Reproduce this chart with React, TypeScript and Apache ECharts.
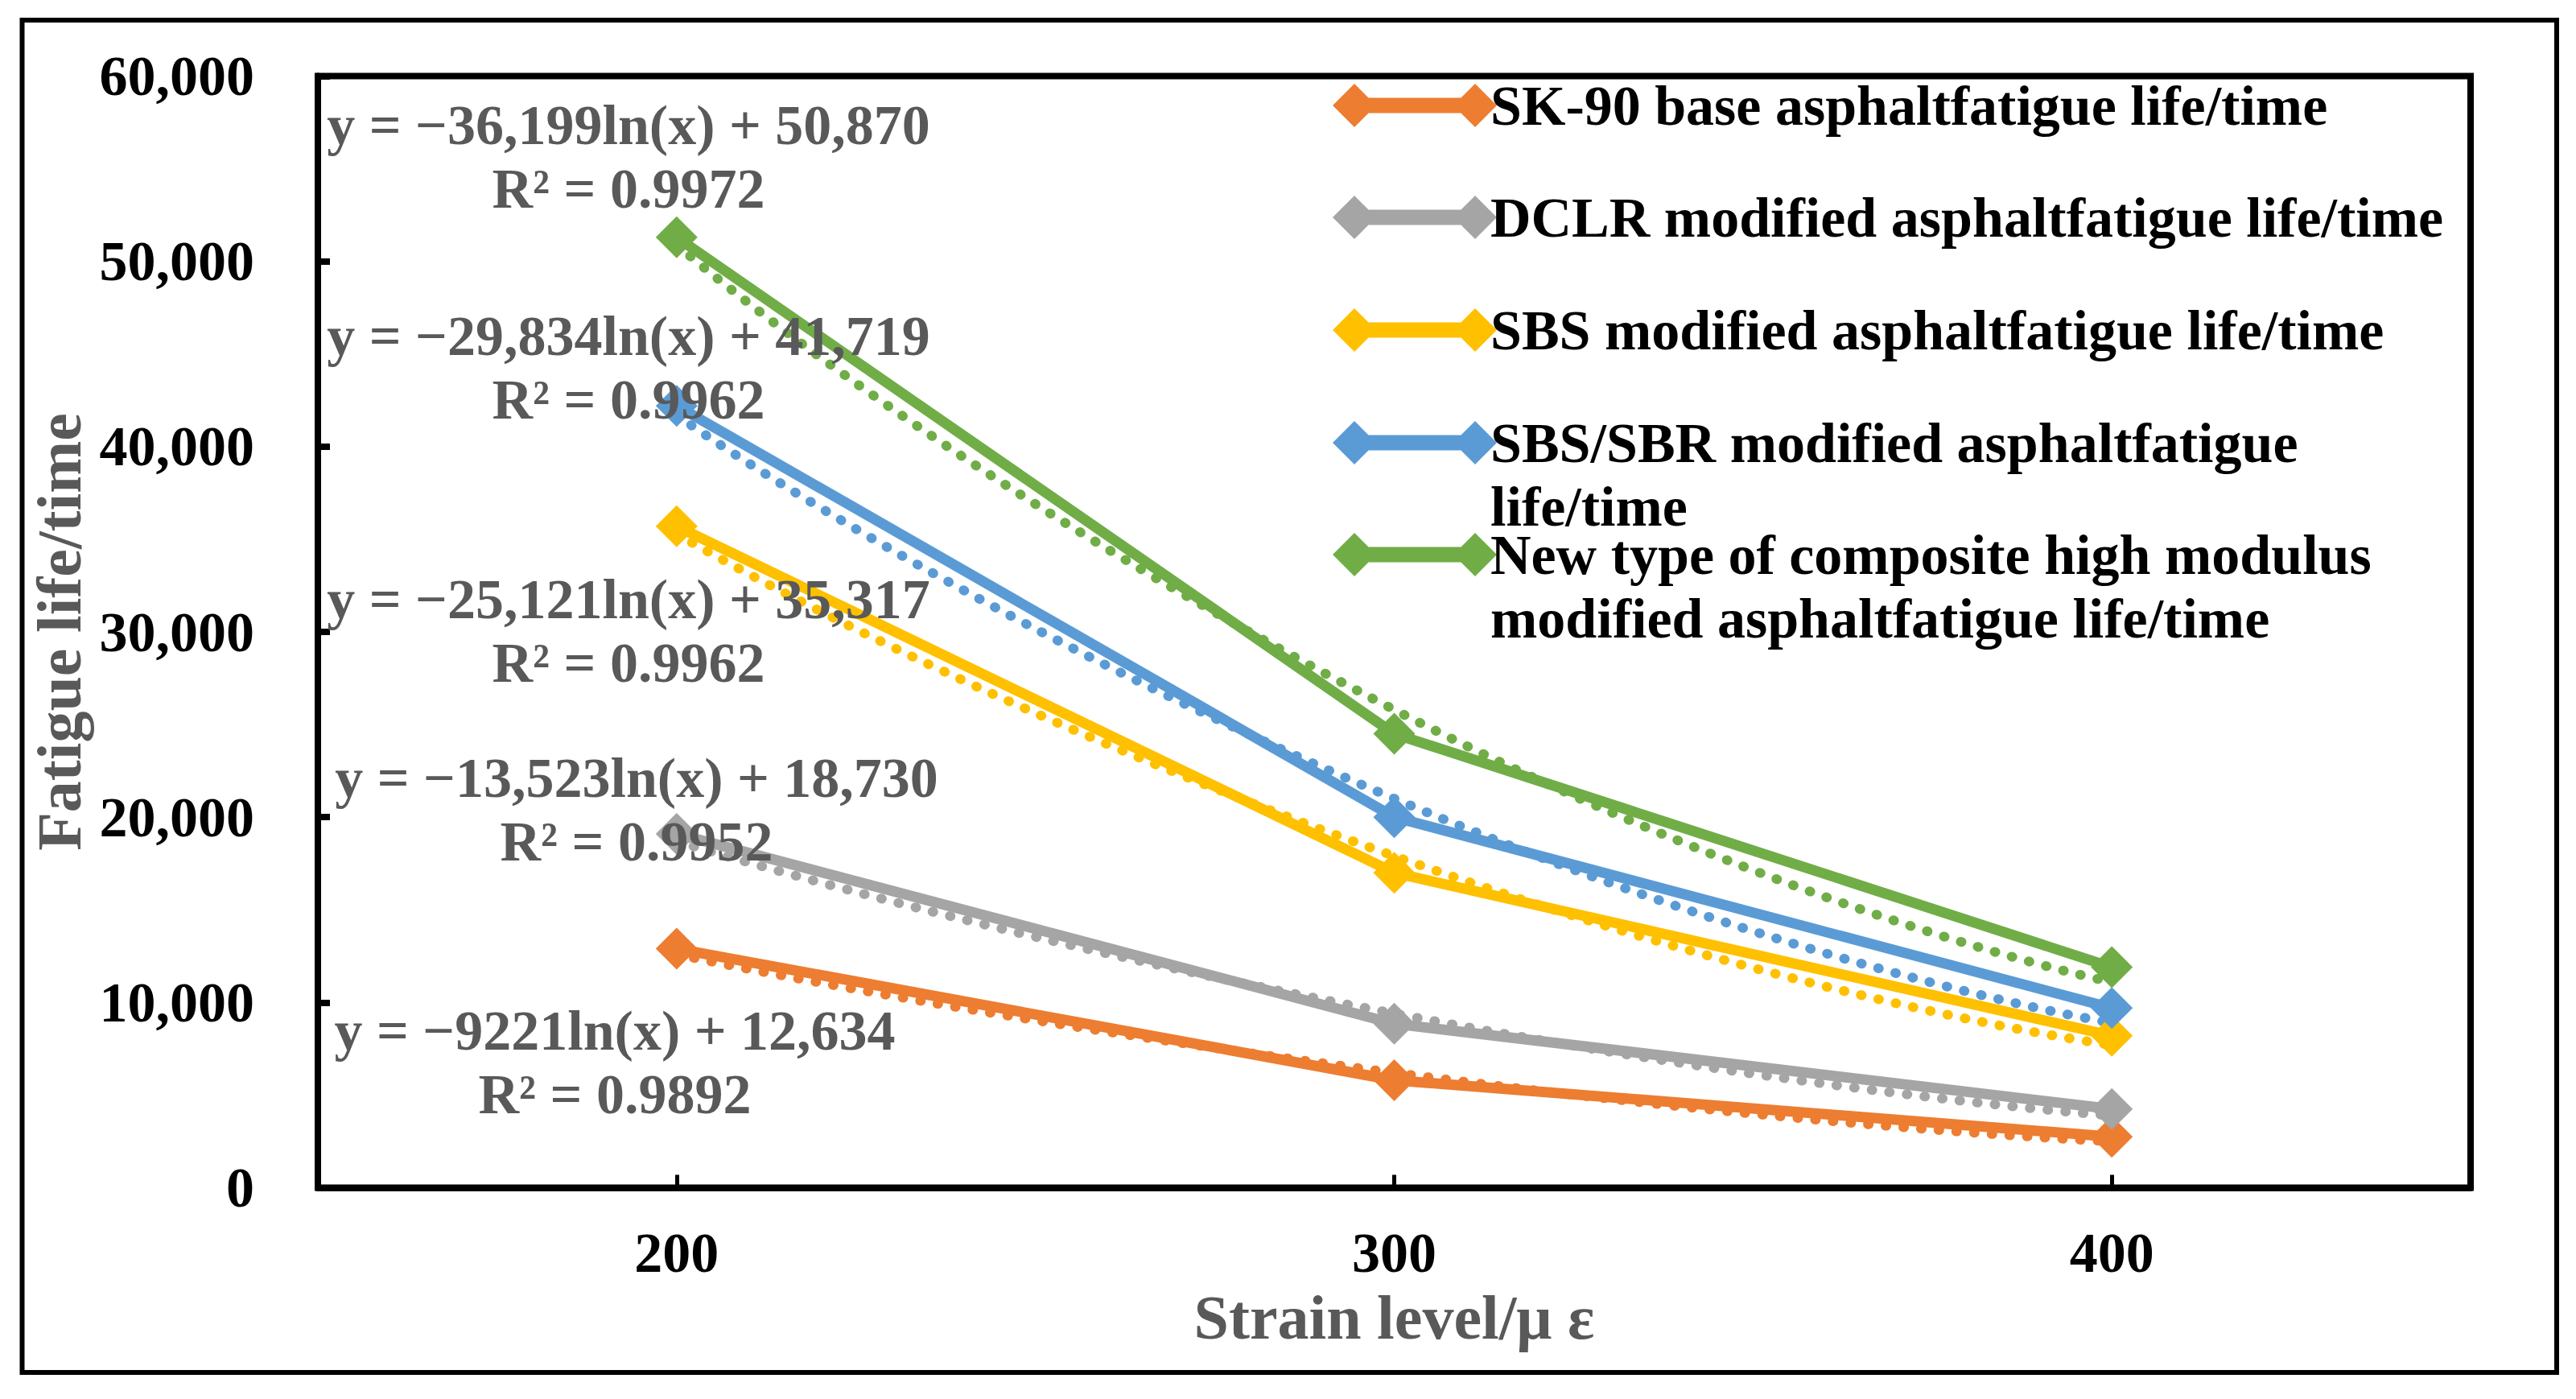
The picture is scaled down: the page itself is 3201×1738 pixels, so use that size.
import React, { useEffect, useRef } from 'react';
import * as echarts from 'echarts';

// strain levels (category axis)
const strainLevels = ['200', '300', '400'];

const seriesNames = [
  'SK-90 base asphaltfatigue life/time',
  'DCLR modified asphaltfatigue life/time',
  'SBS modified asphaltfatigue life/time',
  'SBS/SBR modified asphaltfatigue life/time',
  'New type of composite high modulus modified asphaltfatigue life/time',
];

// legend text as wrapped in the original figure
const legendLabels = [
  'SK-90 base asphaltfatigue life/time',
  'DCLR modified asphaltfatigue life/time',
  'SBS modified asphaltfatigue life/time',
  'SBS/SBR modified asphaltfatigue\nlife/time',
  'New type of composite high modulus\nmodified asphaltfatigue life/time',
];

// measured fatigue life (times)
const sk90Life = [12900, 5800, 2750];
const dclrLife = [19100, 8850, 4250];
const sbsLife = [35700, 17000, 8200];
const sbsSbrLife = [42200, 20000, 9700];
const compositeLife = [51300, 24500, 11900];

// logarithmic trendlines
const sk90Trend = [12600, 6200, 2500];
const dclrTrend = [18700, 9400, 3900];
const sbsTrend = [35300, 17900, 7700];
const sbsSbrTrend = [41700, 21000, 8900];
const compositeTrend = [50900, 25800, 11100];

const equations = [
  'y = −9221ln(x) + 12,634',
  'y = −13,523ln(x) + 18,730',
  'y = −25,121ln(x) + 35,317',
  'y = −29,834ln(x) + 41,719',
  'y = −36,199ln(x) + 50,870',
];
const rSquared = ['R² = 0.9892', 'R² = 0.9952', 'R² = 0.9962', 'R² = 0.9962', 'R² = 0.9972'];

const colors = ['#ED7D31', '#A5A5A5', '#FFC000', '#5B9BD5', '#70AD47'];

const FONT = "'Liberation Serif', 'Times New Roman', serif";
const GREY_TEXT = '#595959';

// pixel layout of the annotation texts and legend rows
const equationPos: [number, number][] = [
  [764, 1320],
  [791, 1006],
  [781, 784],
  [781, 457],
  [781, 195],
];
const legendTops = [91.5, 230.5, 370.5, 431.5, 570.5];

// legend icon: diamond - bar - diamond (204 x 54)
const LEGEND_ICON =
  'path://M0 27L27 0L54 27L27 54Z M150 27L177 0L204 27L177 54Z M27 17.5L177 17.5L177 36.5L27 36.5Z';

const App: React.FC = () => {
  const chartRef = useRef<HTMLDivElement>(null);

  useEffect(() => {
    document.body.style.margin = '0';
    if (!chartRef.current) return;
    const chart = echarts.init(chartRef.current, undefined, { renderer: 'svg' });

    const lifeData = [sk90Life, dclrLife, sbsLife, sbsSbrLife, compositeLife];
    const trendData = [sk90Trend, dclrTrend, sbsTrend, sbsSbrTrend, compositeTrend];

    const trendSeries = trendData.map((d, i) => ({
      name: 'Log. (' + seriesNames[i] + ')',
      type: 'line',
      data: d,
      smooth: 0.6,
      symbol: 'none',
      z: 2,
      lineStyle: { color: colors[i], width: 12, type: [1, 21], cap: 'round' },
      itemStyle: { color: colors[i] },
    }));

    const mainSeries = lifeData.map((d, i) => ({
      name: seriesNames[i],
      type: 'line',
      data: d,
      symbol: 'diamond',
      symbolSize: 52,
      z: 3,
      lineStyle: { color: colors[i], width: 13 },
      itemStyle: { color: colors[i], borderWidth: 0 },
    }));

    // one legend per row so the wrapped rows keep the icon on their first line
    const legends = seriesNames.map((name, i) => {
      const twoLines = legendLabels[i].indexOf('\n') >= 0;
      return {
        left: 1656,
        top: legendTops[i],
        orient: 'vertical',
        padding: 0,
        selectedMode: false,
        data: [name],
        icon: LEGEND_ICON,
        itemWidth: 204,
        itemHeight: 54,
        itemStyle: { borderWidth: 0 },
        formatter: () => (twoLines ? '\n' : '') + legendLabels[i],
        textStyle: {
          fontFamily: FONT,
          fontSize: 70,
          fontWeight: 'bold',
          color: '#000',
          lineHeight: 79,
          padding: [0, 0, 0, -13],
        },
      };
    });

    const option = {
      animation: false,
      backgroundColor: '#fff',
      grid: {
        left: 395,
        top: 94.5,
        width: 2675,
        height: 1381,
        show: true,
        borderColor: '#000',
        borderWidth: 8,
      },
      legend: legends,
      xAxis: {
        type: 'category',
        data: strainLevels,
        boundaryGap: true,
        name: 'Strain level/μ ε',
        nameLocation: 'middle',
        nameGap: 122,
        nameTextStyle: {
          fontFamily: FONT,
          fontSize: 78,
          fontWeight: 'bold',
          color: GREY_TEXT,
          lineHeight: 78,
        },
        axisLine: { lineStyle: { color: '#000', width: 8 } },
        axisTick: { show: true, alignWithLabel: true, inside: true, length: 16, lineStyle: { color: '#000', width: 5 } },
        axisLabel: {
          fontFamily: FONT,
          fontSize: 70,
          fontWeight: 'bold',
          color: '#000',
          lineHeight: 70,
          margin: 46,
        },
        splitLine: { show: false },
      },
      yAxis: {
        type: 'value',
        min: 0,
        max: 60000,
        interval: 10000,
        name: 'Fatigue life/time',
        nameLocation: 'middle',
        nameGap: 270,
        nameTextStyle: {
          fontFamily: FONT,
          fontSize: 78,
          fontWeight: 'bold',
          color: GREY_TEXT,
          lineHeight: 78,
        },
        axisLine: { show: true, lineStyle: { color: '#000', width: 8 } },
        axisTick: { show: true, inside: true, length: 15, lineStyle: { color: '#000', width: 8 } },
        axisLabel: {
          fontFamily: FONT,
          fontSize: 70,
          fontWeight: 'bold',
          color: '#000',
          margin: 79,
          formatter: (v: number) => v.toLocaleString('en-US'),
        },
        splitLine: { show: false },
      },
      graphic: [
        {
          type: 'rect',
          silent: true,
          shape: { x: 27.5, y: 25, width: 3149.5, height: 1680 },
          style: { fill: 'none', stroke: '#000', lineWidth: 6 },
        },
        ...equations.map((eq, i) => ({
          type: 'text',
          silent: true,
          z: 100,
          x: equationPos[i][0],
          y: equationPos[i][1],
          style: {
            text: eq + '\n' + rSquared[i],
            fill: GREY_TEXT,
            fontFamily: FONT,
            fontSize: 70,
            fontWeight: 'bold',
            lineHeight: 79,
            align: 'center',
            verticalAlign: 'middle',
            textAlign: 'center',
            textVerticalAlign: 'middle',
          },
        })),
      ],
      series: [...trendSeries, ...mainSeries],
    };

    chart.setOption(option as any);

    return () => {
      chart.dispose();
    };
  }, []);

  return <div ref={chartRef} style={{ width: '3201px', height: '1738px', background: '#fff' }} />;
};

export default App;
